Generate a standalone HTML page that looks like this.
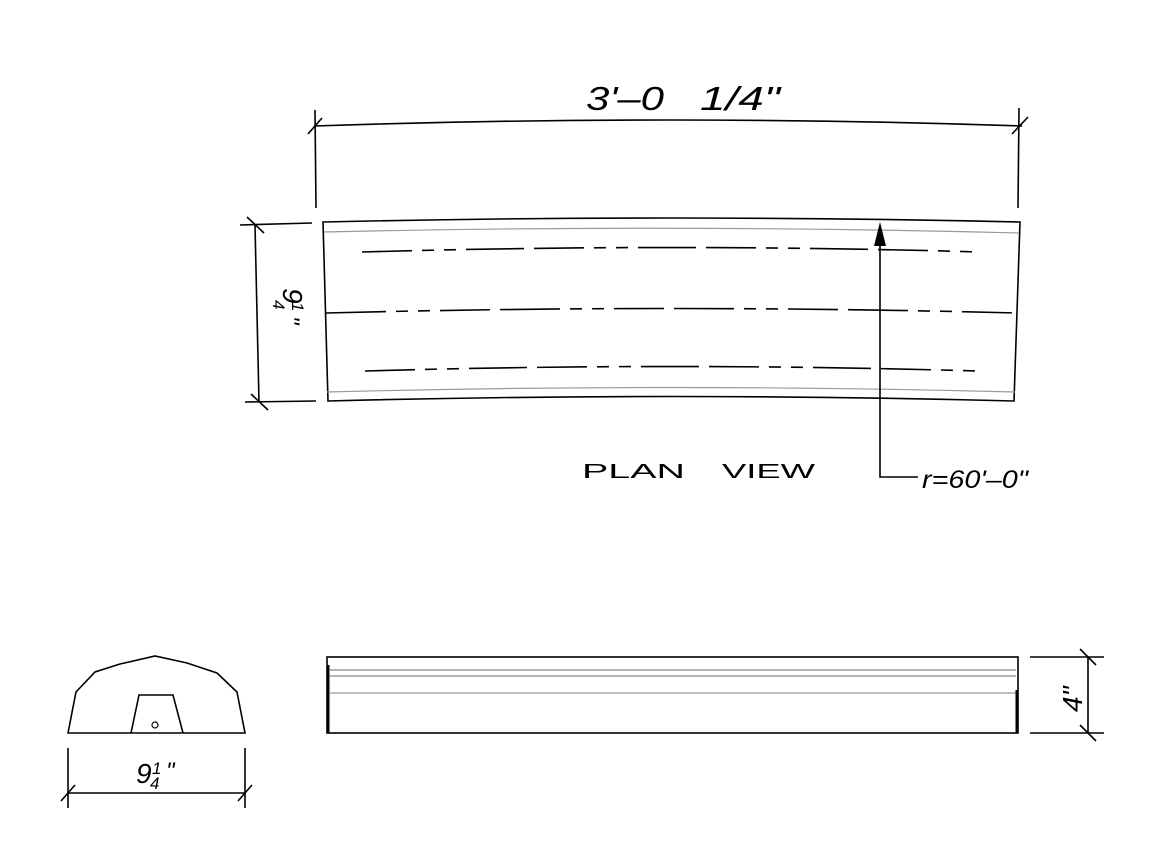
<!DOCTYPE html>
<html><head><meta charset="utf-8"><style>html,body{margin:0;padding:0;background:#fff}svg{display:block}</style></head>
<body>
<svg width="1152" height="864" viewBox="0 0 1152 864" xmlns="http://www.w3.org/2000/svg" font-family="Liberation Sans, sans-serif" font-style="italic">
<g fill="none" stroke="#000" stroke-width="1.6">
<line x1="315" y1="110" x2="316" y2="208"/>
<line x1="1019" y1="108" x2="1018" y2="208"/>
<path d="M314 126 Q672 114 1022 126"/>
<line x1="308" y1="134" x2="322" y2="118"/>
<line x1="1012" y1="134" x2="1028" y2="117"/>
<path d="M323 222 Q672 214 1020 222 L1014 401 Q672 392 328 401 Z"/>
<path d="M324 232 Q672 224 1019 233" stroke="#999" stroke-width="1.2"/>
<path d="M327 392 Q672 383 1015 392" stroke="#999" stroke-width="1.2"/>
<path d="M326 313 Q672 304 1017 313" stroke-dasharray="60,10,12,10,12,10,50,10"/>
<path d="M362 252 Q672 243 980 252" stroke-dasharray="50,10,12,10,12,10,58,10"/>
<path d="M365 371 Q672 362 977 371" stroke-dasharray="50,10,12,10,12,10,58,10"/>
<line x1="240" y1="225" x2="312" y2="223"/>
<line x1="245" y1="402" x2="316" y2="401"/>
<line x1="255" y1="225" x2="259" y2="402"/>
<line x1="247" y1="217" x2="264" y2="233"/>
<line x1="251" y1="394" x2="268" y2="410"/>
<path d="M880 246 L880 477 L918 477"/>
<path d="M68 733 L76 692 L95 672 L120 664 L155 656 L187 663 L217 673 L237 692 L245 733 Z"/>
<path d="M131 733 L139 695 L173 695 L183 733"/>
<circle cx="155" cy="725" r="3" stroke-width="1.2"/>
<line x1="68" y1="748" x2="68" y2="808"/>
<line x1="245" y1="748" x2="245" y2="808"/>
<line x1="68" y1="793" x2="245" y2="793"/>
<line x1="61" y1="801" x2="75" y2="785"/>
<line x1="238" y1="801" x2="252" y2="785"/>
<rect x="327" y="657" width="691" height="76"/>
<line x1="330" y1="670" x2="1016" y2="670" stroke="#888" stroke-width="1.2"/>
<line x1="330" y1="676" x2="1016" y2="676" stroke="#888" stroke-width="1.2"/>
<line x1="330" y1="693" x2="1016" y2="693" stroke="#999" stroke-width="1.2"/>
<line x1="328" y1="665" x2="328" y2="733" stroke-width="3"/>
<line x1="1017" y1="690" x2="1017" y2="733" stroke-width="3"/>
<line x1="1030" y1="657" x2="1104" y2="657"/>
<line x1="1030" y1="733" x2="1104" y2="733"/>
<line x1="1088" y1="657" x2="1088" y2="733"/>
<line x1="1080" y1="649" x2="1096" y2="665"/>
<line x1="1080" y1="725" x2="1096" y2="741"/>
</g>
<polygon points="880,222 874,246 886,246" fill="#000"/>
<text x="586" y="110" font-size="33" textLength="78" lengthAdjust="spacingAndGlyphs">3'–0</text>
<text x="700" y="110" font-size="33" textLength="80" lengthAdjust="spacingAndGlyphs">1/4"</text>
<text x="582" y="478" font-size="20" font-style="normal" textLength="103" lengthAdjust="spacingAndGlyphs">PLAN</text>
<text x="722" y="478" font-size="20" font-style="normal" textLength="93" lengthAdjust="spacingAndGlyphs">VIEW</text>
<text x="922" y="488" font-size="25" textLength="106" lengthAdjust="spacingAndGlyphs">r=60'–0"</text>
<g transform="translate(283 288) rotate(90)">
<text x="0" y="0" font-size="28">9</text>
<text x="14" y="-9" font-size="17">1</text>
<text x="12" y="10" font-size="17">4</text>
<text x="28" y="0" font-size="24">"</text>
</g>
<text x="136" y="783" font-size="28">9</text>
<text x="152" y="774" font-size="17">1</text>
<text x="150" y="789" font-size="17">4</text>
<text x="166" y="779" font-size="24">"</text>
<text x="0" y="0" font-size="28" transform="translate(1082 712) rotate(-90)">4"</text>
</svg>
</body></html>
